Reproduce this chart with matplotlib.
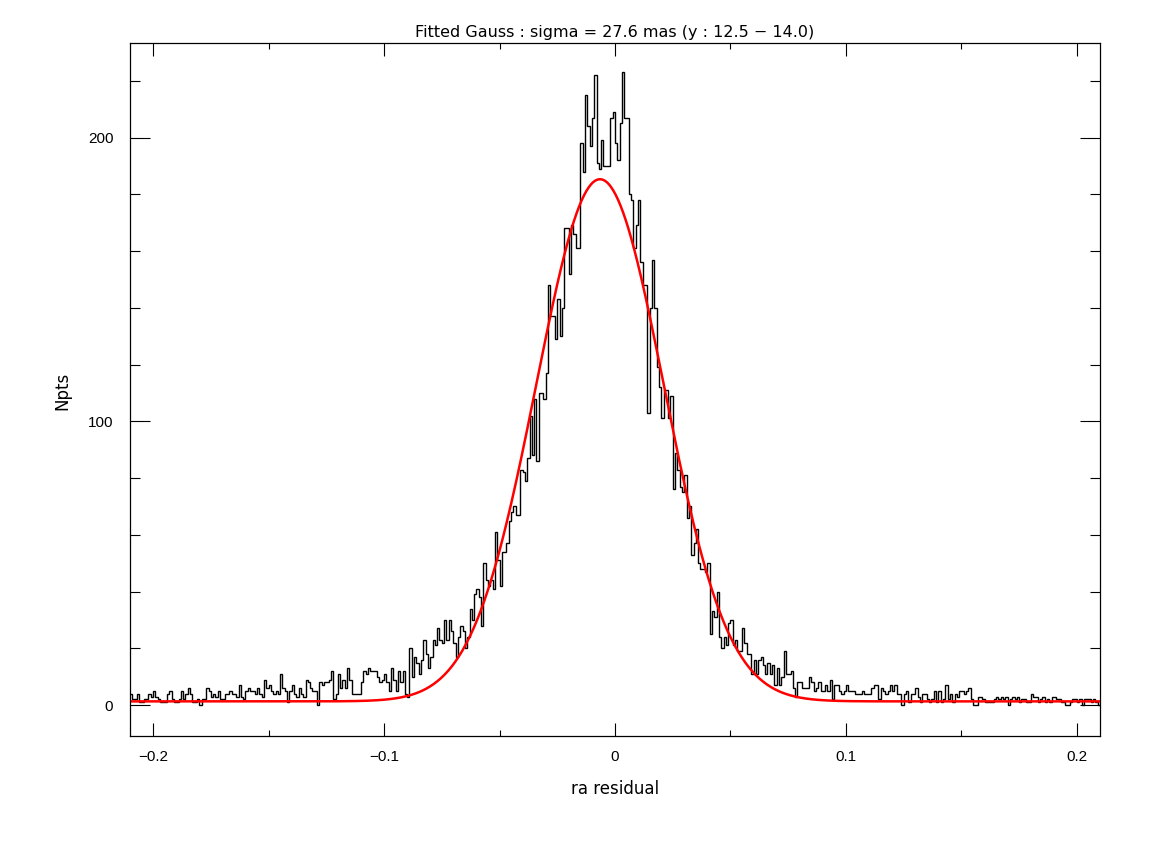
import numpy as np
import matplotlib
matplotlib.use("Agg")
import matplotlib.pyplot as plt
from matplotlib.ticker import MultipleLocator, FuncFormatter

plt.rcParams['font.family'] = ['Liberation Sans', 'DejaVu Sans']

# histogram of ra residuals, 0.001 wide bins from -0.21 to 0.21 (counts)
tail_left = [4,2,2,4,1,1,2,2,4,3, 5,3,2,1,1,1,4,5,2,1, 1,2,5,2,4,6,4,1,1,2,
             0,2,2,6,5,3,4,3,5,2, 2,4,4,5,4,4,3,7,3,2, 5,6,5,5,4,6,4,3,9,6,
             7,5,4,5,4,11,6,5,1,5, 7,4,3,6,4,3,9,8,6,5, 5,0,8,7,8,8,9]
wing_left = [12,2,4,11,6,9,6,13,9,4, 4,4,4,8,12,11,13,12,12,12,
             10,8,9,11,8,5,13,9,5,12, 8,12,4,3,20,10,17,15,11,16,
             23,18,13,17,23,21,27,23,22,30, 23,30,26,22,17,24]
rise = [28,26,20,24,34,30,39,41,38,28, 50,44,42,44,41,61,51,42,54,54,
        57,65,68,70,67,67,83,82,79,87, 102,88,108,86,110,110,108,117,148,137,
        137,129,143]
core = [130,140,168,168,152,169,166,161,161,198, 188,215,204,197,207,222,191,189,199,190,
        190,190,207,209,198,192,205,223,207,207, 180,178,161,169,178,156,148,148,103,140,
        157,140,119,112,101,111,111,101]
fall = [109,76,89,83,77,75,81,66,70,53, 57,62,50,48,48,47,50,25,33,31,
        40,24,20,24,21,29,30,21,23,19, 19,27,22,18,18,11,16,11,16,17,
        14,11,15,11,14,7,13,7,10,19, 11,11,12,6,3]
wing_right = [8,8,6,6,6,10,8,5,6,8, 5,5,7,5,9,2,7,7,5,4, 5,7,5,5,5,4,4,4,5,4,
              4,4,6,7,7,2,6,5,4,5, 7,5,7,4,4,0,4,5,1,4, 4,6,3,1,4,4,2,1,2,5,
              1,5,1,2,7,2]
tail_right = [4,1,4,3,5,5,4,5,6,2, 0,0,3,3,2,1,1,1,1,2, 3,2,3,2,3,0,2,3,2,3,
              1,2,2,1,1,4,3,3,1,2, 3,1,2,1,3,3,2,2,1,1, 0,0,1,2,2,1,2,0,2,2,
              2,1,2,1,0]

counts = np.array(tail_left + wing_left + rise + core + fall + wing_right + tail_right)
x_min, x_max = -0.21, 0.21
edges = np.linspace(x_min, x_max, len(counts) + 1)

# fitted gaussian (sigma = 27.6 mas)
fit_amp = 184.0
fit_mu = -0.0065
fit_sigma = 0.0276
fit_bg = 1.3


def tick_fmt(v, pos):
    if abs(v) < 1e-9:
        return '0'
    return ('%g' % round(v, 3)).replace('-', '\u2212')


W, H = 1158, 851
fig = plt.figure(figsize=(W / 100, H / 100), dpi=100)
ax = fig.add_axes([130 / W, 1 - 736 / H, 970 / W, (736 - 43.3) / H])

ax.stairs(counts, edges, baseline=None, color='black', linewidth=1.0)

xs = np.linspace(x_min, x_max, 800)
ax.plot(xs, fit_bg + fit_amp * np.exp(-0.5 * ((xs - fit_mu) / fit_sigma) ** 2),
        color='#ff0000', linewidth=1.8)

ax.set_xlim(x_min, x_max)
ax.set_ylim(-10.9, 233.2)

ax.xaxis.set_major_locator(MultipleLocator(0.1))
ax.xaxis.set_minor_locator(MultipleLocator(0.05))
ax.yaxis.set_major_locator(MultipleLocator(100))
ax.yaxis.set_minor_locator(MultipleLocator(20))
ax.xaxis.set_major_formatter(FuncFormatter(tick_fmt))
ax.yaxis.set_major_formatter(FuncFormatter(tick_fmt))
ax.tick_params(which='both', direction='in', top=True, right=True, width=0.8, labelsize=11)
ax.tick_params(axis='x', which='major', length=9.4, pad=10)
ax.tick_params(axis='x', which='minor', length=4.3)
ax.tick_params(axis='y', which='major', length=14.4, pad=12)
ax.tick_params(axis='y', which='minor', length=7.5)
for sp in ax.spines.values():
    sp.set_linewidth(0.9)

lab_font = ['DejaVu Sans']
fig.text(615 / W, 1 - 32 / H, 'Fitted Gauss : sigma = 27.6 mas (y : 12.5 \u2212 14.0)',
         ha='center', va='center', fontsize=11.5, family=lab_font)
fig.text(615 / W, 1 - 789 / H, 'ra residual', ha='center', va='center', fontsize=12,
         family=lab_font)
fig.text(62 / W, 1 - 391 / H, 'Npts', ha='center', va='center', rotation=90, fontsize=12,
         family=lab_font)

fig.savefig('out.png', dpi=100)
